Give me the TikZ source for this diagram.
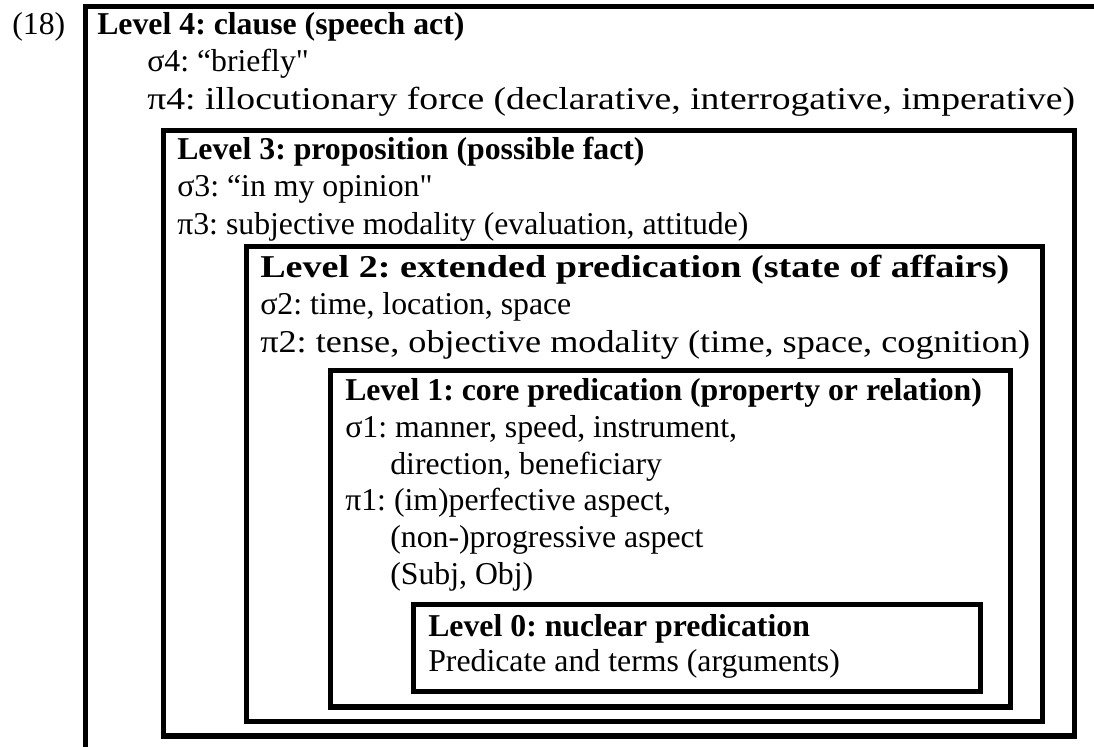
\documentclass[tikz,border=0pt]{standalone}
\usepackage{fontspec}
\setmainfont{Liberation Serif}[Ligatures=TeXOff]
\frenchspacing
\newcommand{\squeeze}[2]{\scalebox{#1}[1]{#2}}
\begin{document}
\begin{tikzpicture}[x=0.025cm,y=-0.025cm]
		\tikzset{levelbox/.style = {draw,line width=0.125cm}}
		\tikzset{txt/.style = {anchor=base west,inner sep=0pt,font=\fontsize{22.6}{27}\selectfont}}
		\tikzset{head/.style = {txt,font=\fontsize{22.6}{27}\selectfont\bfseries}}
		\useasboundingbox (0,0) rectangle (1094,747);
		% boxes
		\draw[levelbox] (85.5,747) -- (85.5,7) -- (1094,7);
		\draw[levelbox] (163,130.5) rectangle (1074.5,736);
		\draw[levelbox] (246,246.5) rectangle (1042.5,721.5);
		\draw[levelbox] (330.5,370.5) rectangle (1010.5,707);
		\draw[levelbox] (413.5,604.5) rectangle (980.5,691.5);
		% level 4
		\node[txt] (num) at (12,35) {(18)};
		\node[head] (l4) at (97,35) {Level 4: clause (speech act)};
		\node[txt] (s4) at (147,72) {σ4: “briefly"};
		\node[txt] (p4) at (147,110) {\squeeze{1.185}{π4: illocutionary force (declarative, interrogative, imperative)}};
		% level 3
		\node[head] (l3) at (177,160) {Level 3: proposition (possible fact)};
		\node[txt] (s3) at (177,197) {σ3: “in my opinion"};
		\node[txt] (p3) at (177,235) {π3: subjective modality (evaluation, attitude)};
		% level 2
		\node[head] (l2) at (260,278) {\squeeze{1.2}{Level 2: extended predication (state of affairs)}};
		\node[txt] (s2) at (260,315) {σ2: time, location, space};
		\node[txt] (p2) at (260,353) {\squeeze{1.14}{π2: tense, objective modality (time, space, cognition)}};
		% level 1
		\node[head] (l1) at (345,401) {Level 1: core predication (property or relation)};
		\node[txt] (s1) at (345,438) {σ1: manner, speed, instrument,};
		\node[txt] (s1b) at (390,475) {direction, beneficiary};
		\node[txt] (p1) at (345,511) {π1: (im)perfective aspect,};
		\node[txt] (p1b) at (390,548) {(non-)progressive aspect};
		\node[txt] (p1c) at (390,585) {(Subj, Obj)};
		% level 0
		\node[head] (l0) at (428,636) {Level 0: nuclear predication};
		\node[txt] (n0) at (428,672) {Predicate and terms (arguments)};
	\end{tikzpicture}
\end{document}
